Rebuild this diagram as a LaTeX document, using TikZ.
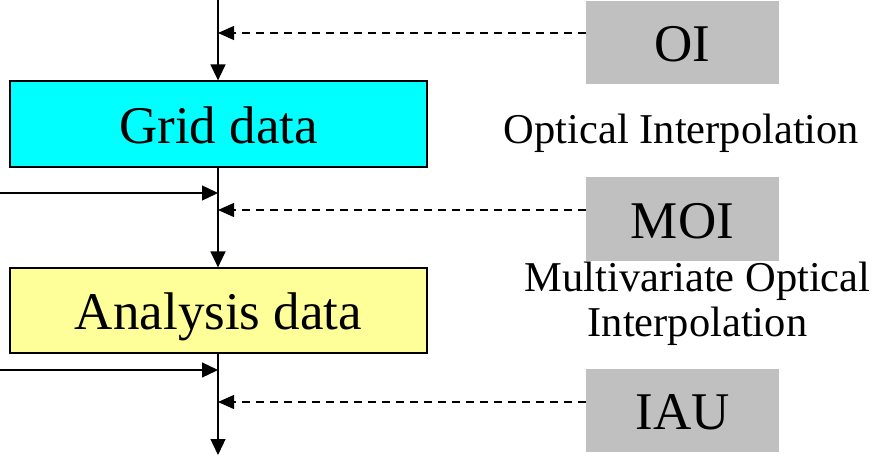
\documentclass[tikz,border=0pt]{standalone}
\usepackage{fontspec}
\setmainfont{Liberation Serif}
\usetikzlibrary{arrows.meta}
\definecolor{boxcyan}{HTML}{00FFFF}
\definecolor{boxyellow}{HTML}{FFFF99}
\definecolor{boxgray}{HTML}{C0C0C0}
\begin{document}
\begin{tikzpicture}[x=1pt,y=-1pt,
  databox/.style={draw=black,line width=1.2pt,minimum width=417pt,inner sep=0pt,text height=38pt,text depth=0pt,font=\fontsize{53}{60}\selectfont},
  methbox/.style={fill=boxgray,draw=none,minimum width=193pt,minimum height=83pt,inner sep=0pt,text height=38pt,text depth=0pt,font=\fontsize{53}{60}\selectfont},
  lbl/.style={inner sep=0pt,align=center,font=\fontsize{42.5}{45}\selectfont},
  flow/.style={line width=1.3pt,-{Triangle[length=16pt,width=15pt]}},
  feed/.style={line width=1.1pt,dash pattern=on 8pt off 6pt,-{Triangle[length=16pt,width=14pt]}}]
\useasboundingbox (0,0) rectangle (885,455);
\node[databox,fill=boxcyan,minimum height=86pt] (grid) at (218.5,124) {Grid data};
\node[databox,fill=boxyellow,minimum height=85pt] (ana) at (218.5,310.5) {Analysis data};
\node[methbox] (oi) at (682.5,42.5) {OI};
\node[methbox,minimum height=84pt] (moi) at (682.5,219) {MOI};
\node[methbox] (iau) at (682.5,410.5) {IAU};
\node[lbl,anchor=base] (oil) at (681.5,143) {Optical Interpolation};
\node[lbl] (moil) at (697.5,303.5) {Multivariate Optical\\Interpolation};
\coordinate (top) at (218,0);
\coordinate (bot) at (218,455);
\coordinate (j1) at (218,33);
\coordinate (j2) at (218,193);
\coordinate (j3) at (218,210);
\coordinate (j4) at (218,370);
\coordinate (j5) at (218,402);
\coordinate (l1) at (0,193);
\coordinate (l2) at (0,370);
\draw[flow] (top) -- (grid.north -| top);
\draw[flow] (grid.south -| top) -- (ana.north -| top);
\draw[flow] (ana.south -| top) -- (bot);
\draw[feed] (oi.west |- j1) -- (j1);
\draw[feed] (moi.west |- j3) -- (j3);
\draw[feed] (iau.west |- j5) -- (j5);
\draw[flow] (l1) -- (j2);
\draw[flow] (l2) -- (j4);
\end{tikzpicture}
\end{document}
